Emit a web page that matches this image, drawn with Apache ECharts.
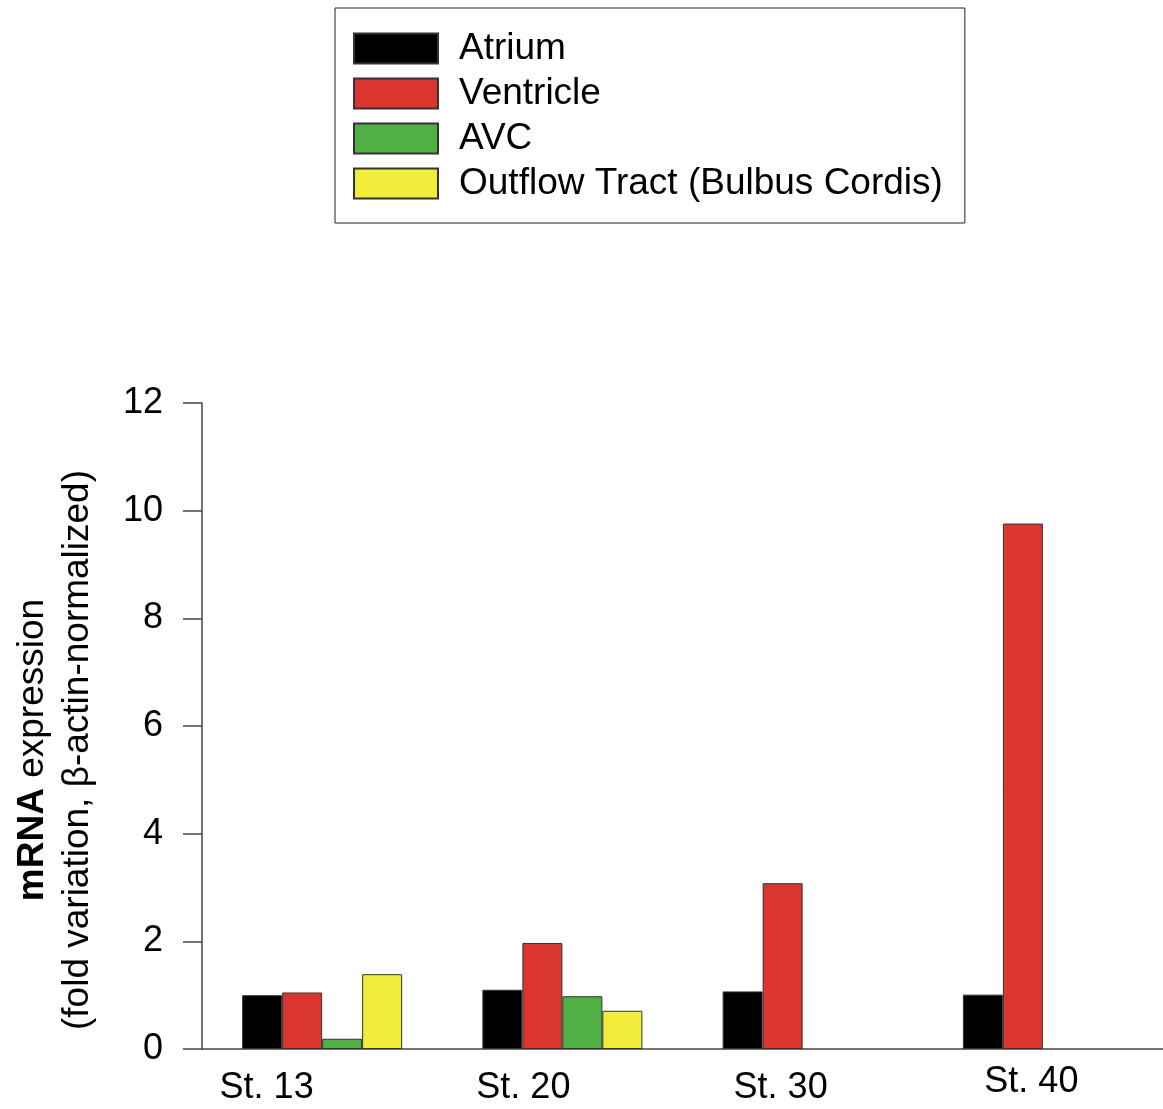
<!DOCTYPE html>
<html>
<head>
<meta charset="utf-8">
<script src="https://cdn.jsdelivr.net/npm/echarts@6/dist/echarts.min.js"></script>
<style>
  html, body { margin: 0; padding: 0; background: #fff; }
  #chart { width: 1163px; height: 1109px; }
</style>
</head>
<body>
<div id="chart"></div>
<script>
// Developmental stages (categories)
const stages = ['St. 13', 'St. 20', 'St. 30', 'St. 40'];

// Fold variation per heart region, beta-actin normalized
const atrium = [1.0, 1.1, 1.07, 1.01];
const ventricle = [1.05, 1.97, 3.08, 9.76];
const avc = [0.19, 0.98, null, null];
const outflowTract = [1.39, 0.71, null, null];

// Y axis ticks
const yTicks = [0, 2, 4, 6, 8, 10, 12];

const seriesNames = ['Atrium', 'Ventricle', 'AVC', 'Outflow Tract (Bulbus Cordis)'];
const seriesColors = ['#000000', '#db3530', '#50b046', '#f1ed3b'];
const seriesValues = [atrium, ventricle, avc, outflowTract];

const FONT = '"Liberation Sans", Arial, Helvetica, sans-serif';

// Per-stage label placement tweaks (horizontal shift via right padding, vertical via lineHeight)
const labelRich = {
  s0: { padding: [0, 111, 0, 0], lineHeight: 48 },
  s1: { padding: [0, 78, 0, 0], lineHeight: 48 },
  s2: { padding: [0, 44, 0, 0], lineHeight: 48 },
  s3: { padding: [0, 23, 0, 0], lineHeight: 36 }
};
Object.values(labelRich).forEach(r => { r.fontSize = 36; r.fontFamily = FONT; r.color = '#000'; });

const chart = echarts.init(document.getElementById('chart'), null, { renderer: 'canvas' });

chart.setOption({
  animation: false,
  backgroundColor: '#ffffff',
  textStyle: { fontFamily: FONT },
  legend: {
    orient: 'vertical',
    left: 335,
    top: 8,
    padding: [22, 22, 21, 18],
    itemWidth: 84,
    itemHeight: 30,
    itemGap: 8,
    borderColor: '#222',
    borderWidth: 1,
    icon: 'rect',
    textStyle: {
      fontSize: 37,
      lineHeight: 30,
      color: '#000',
      fontFamily: FONT,
      padding: [0, 0, 0, 16]
    },
    data: seriesNames
  },
  grid: { left: 202, right: 0, top: 403, bottom: 60, containLabel: false },
  xAxis: {
    type: 'category',
    data: stages,
    axisLine: { lineStyle: { color: '#444', width: 1.5 } },
    axisTick: { show: false },
    axisLabel: {
      margin: 15,
      interval: 0,
      formatter: (v, i) => '{s' + i + '|' + v + '}',
      rich: labelRich
    }
  },
  yAxis: {
    type: 'value',
    min: yTicks[0],
    max: yTicks[yTicks.length - 1],
    interval: 2,
    splitLine: { show: false },
    axisLine: { show: true, lineStyle: { color: '#444', width: 1.5 } },
    axisTick: { show: true, length: 19, lineStyle: { color: '#444', width: 1.5 } },
    axisLabel: { margin: 39, fontSize: 36, color: '#000', fontFamily: FONT },
    name: '{b|mRNA}{n| expression}\n{n|(fold variation, β-actin-normalized)}',
    nameLocation: 'middle',
    nameRotate: 90,
    nameGap: 102,
    nameTextStyle: {
      padding: [0, 48, 0, 0],
      rich: {
        b: { fontSize: 37, fontWeight: 'bold', color: '#000', fontFamily: FONT, lineHeight: 45 },
        n: { fontSize: 37, color: '#000', fontFamily: FONT, lineHeight: 45 }
      }
    }
  },
  series: seriesNames.map((name, k) => ({
    name,
    type: 'bar',
    data: seriesValues[k],
    barWidth: 40,
    barGap: '0%',
    itemStyle: { color: seriesColors[k], borderColor: '#333', borderWidth: 1 }
  }))
});
</script>
</body>
</html>
